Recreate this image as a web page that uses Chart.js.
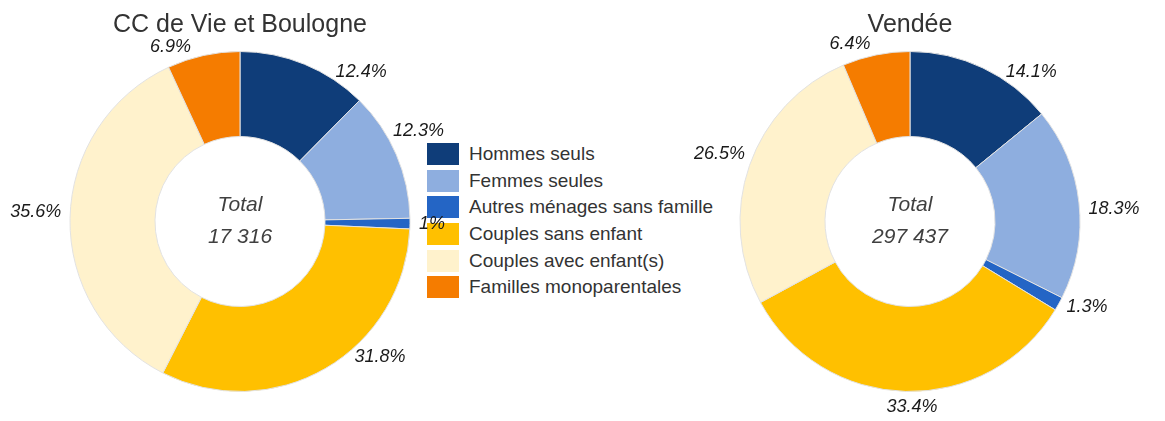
<!DOCTYPE html>
<html>
<head>
<meta charset="utf-8">
<script src="https://cdn.jsdelivr.net/npm/chart.js@4"></script>
<style>
  body { margin: 0; background: #fff; width: 1165px; height: 421px; position: relative; overflow: hidden; }
  .wrap { position: absolute; top: 0; height: 421px; z-index: 1; }
  #legend { position: absolute; left: 427px; top: 141px; z-index: 0; font-family: "Liberation Sans", Arial, sans-serif; font-size: 19px; color: #333; }
  #legend .row { display: flex; align-items: center; height: 26.6px; }
  #legend .box { width: 32px; height: 22px; margin-right: 10px; }
</style>
</head>
<body>
<div id="legend"></div>
<div class="wrap" style="left:0;width:480px"><canvas id="chart-cc"></canvas></div>
<div class="wrap" style="left:680px;width:460px"><canvas id="chart-vendee"></canvas></div>
<script>
const categories = [
  "Hommes seuls",
  "Femmes seules",
  "Autres ménages sans famille",
  "Couples sans enfant",
  "Couples avec enfant(s)",
  "Familles monoparentales",
];
const colors = ["#0f3d79", "#8eaedf", "#2465c5", "#ffc000", "#fff2cc", "#f57c00"];
const ccValues = [12.4, 12.3, 1, 31.8, 35.6, 6.9];
const vendeeValues = [14.1, 18.3, 1.3, 33.4, 26.5, 6.4];
const ccTotal = 17316;
const vendeeTotal = 297437;

function formatTotal(n) {
  return String(n).replace(/\B(?=(\d{3})+(?!\d))/g, " ");
}

/* percentage labels just outside each slice
   (the source labels were hand-moved a bit, shift is in degrees) */
const outsideLabels = {
  id: "outsideLabels",
  afterDatasetsDraw(chart, args, opts) {
    const ctx = chart.ctx;
    const meta = chart.getDatasetMeta(0);
    const values = chart.data.datasets[0].data;
    const shift = opts.shift || [];
    ctx.save();
    ctx.font = "italic 18px 'Liberation Sans', Arial, sans-serif";
    ctx.fillStyle = "#1a1a1a";
    ctx.textAlign = "center";
    ctx.textBaseline = "middle";
    meta.data.forEach((arc, i) => {
      const p = arc.getProps(["x", "y", "startAngle", "endAngle", "outerRadius"], true);
      const mid = (p.startAngle + p.endAngle) / 2 + ((shift[i] || 0) * Math.PI) / 180;
      const r = p.outerRadius + 9;
      const text = values[i] + "%";
      const w = ctx.measureText(text).width;
      const h = 14;
      /* push the text box outward so its inner edge touches the anchor */
      const x = p.x + (r + w / 2) * Math.cos(mid);
      const y = p.y + (r + h / 2) * Math.sin(mid);
      ctx.fillText(text, x, y);
    });
    ctx.restore();
  },
};

/* "Total" in the hole */
const centerText = {
  id: "centerText",
  afterDraw(chart, args, opts) {
    const arc = chart.getDatasetMeta(0).data[0];
    if (!arc) return;
    const ctx = chart.ctx;
    ctx.save();
    ctx.font = "italic 21px 'Liberation Sans', Arial, sans-serif";
    ctx.fillStyle = "#404040";
    ctx.textAlign = "center";
    ctx.textBaseline = "middle";
    ctx.fillText("Total", arc.x, arc.y - 16);
    ctx.fillText(formatTotal(opts.total), arc.x, arc.y + 16);
    ctx.restore();
  },
};

function makeDoughnut(el, title, values, total, labelShift) {
  return new Chart(el, {
    type: "doughnut",
    data: {
      labels: categories,
      datasets: [
        {
          data: values,
          backgroundColor: colors,
          borderColor: "#e2e2e2",
          borderWidth: 1,
          hoverOffset: 0,
        },
      ],
    },
    options: {
      responsive: true,
      maintainAspectRatio: false,
      animation: false,
      cutout: "50%",
      layout: { padding: { top: 0, bottom: 29, left: 0, right: 0 } },
      plugins: {
        legend: { display: false },
        tooltip: { enabled: false },
        title: {
          display: true,
          text: title,
          color: "#333",
          font: { family: "'Liberation Sans', Arial, sans-serif", size: 25, weight: "normal", lineHeight: 1.2 },
          padding: { top: 10, bottom: 11 },
        },
        centerText: { total: total },
        outsideLabels: { shift: labelShift },
      },
    },
    plugins: [outsideLabels, centerText],
  });
}

makeDoughnut(document.getElementById("chart-cc"), "CC de Vie et Boulogne", ccValues, ccTotal,
  [14, -6, 0, -13, 2, -8]);
makeDoughnut(document.getElementById("chart-vendee"), "Vendée", vendeeValues, vendeeTotal,
  [11, 2.5, -1.5, -2, 2, -6]);

/* legend shared by both charts */
const legend = document.getElementById("legend");
categories.forEach((label, i) => {
  const row = document.createElement("div");
  row.className = "row";
  const box = document.createElement("span");
  box.className = "box";
  box.style.background = colors[i];
  const txt = document.createElement("span");
  txt.textContent = label;
  row.appendChild(box);
  row.appendChild(txt);
  legend.appendChild(row);
});
</script>
</body>
</html>
